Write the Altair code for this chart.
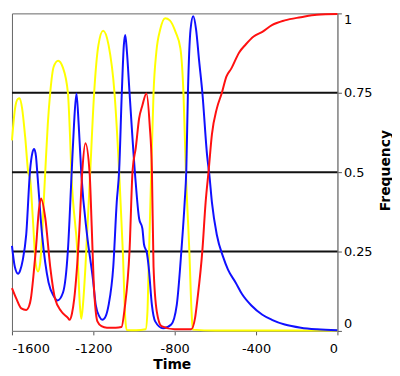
import altair as alt
import pandas as pd

# ---- data ----
yellow_t = [-1600, -1585, -1572, -1562, -1550, -1535, -1520, -1511, -1497, -1483, -1472, -1462, -1452,
            -1444, -1436, -1424, -1412, -1395, -1373, -1350, -1325, -1315, -1308, -1278, -1266, -1259,
            -1250, -1239, -1227, -1215, -1196, -1175, -1152, -1125, -1096, -1073, -1055, -1043, -1036,
            -990, -943, -934, -928, -915, -904, -890, -871, -847, -824, -795, -772, -757, -745, -728,
            -717, -711, -600, -300, 0]
yellow_v = [0.60, 0.70, 0.73, 0.733, 0.70, 0.61, 0.50, 0.48, 0.35, 0.21, 0.187, 0.21, 0.30,
            0.405, 0.506, 0.65, 0.75, 0.832, 0.851, 0.83, 0.75, 0.62, 0.50, 0.245, 0.08, 0.038,
            0.09, 0.20, 0.35, 0.506, 0.75, 0.90, 0.945, 0.90, 0.75, 0.50, 0.25, 0.04, 0.003,
            0.002, 0.005, 0.06, 0.202, 0.506, 0.75, 0.88, 0.95, 0.985, 0.978, 0.94, 0.89, 0.75, 0.50, 0.25,
            0.06, 0.004, 0.001, 0.001, 0.001]

blue_t = [-1600, -1586, -1570, -1560, -1547, -1530, -1511, -1500, -1491, -1482, -1475, -1452, -1420,
          -1395, -1376, -1349, -1325, -1306, -1295, -1283, -1272, -1259, -1231, -1202, -1188, -1170,
          -1156, -1140, -1125, -1102, -1085, -1073, -1060, -1050, -1043, -1035, -1022, -995, -975,
          -959, -951, -936, -928, -912, -896, -857, -817, -790, -767, -751, -743, -735, -722, -709,
          -695, -680, -664, -640, -630, -617, -593, -562, -538, -500, -470, -423, -369, -322, -259,
          -180, -101, 0]
blue_v = [0.268, 0.202, 0.18, 0.19, 0.223, 0.303, 0.506, 0.56, 0.573, 0.55, 0.494, 0.303, 0.152,
          0.11, 0.096, 0.121, 0.254, 0.506, 0.65, 0.748, 0.65, 0.494, 0.303, 0.163, 0.081, 0.045,
          0.035, 0.045, 0.081, 0.202, 0.405, 0.506, 0.75, 0.90, 0.932, 0.88, 0.75, 0.494, 0.354,
          0.323, 0.273, 0.243, 0.202, 0.081, 0.030, 0.008, 0.020, 0.081, 0.254, 0.405, 0.506, 0.75, 0.95, 0.991,
          0.95, 0.851, 0.75, 0.548, 0.494, 0.405, 0.303, 0.233, 0.193, 0.152, 0.117, 0.08, 0.051, 0.035, 0.020,
          0.010, 0.005, 0.002]

red_t = [-1600, -1578, -1554, -1530, -1515, -1507, -1495, -1483, -1467, -1457, -1436, -1412, -1388,
         -1357, -1325, -1317, -1305, -1294, -1270, -1254, -1239, -1218, -1208, -1198, -1188, -1180,
         -1160, -1133, -1090, -1062, -1046, -1022, -1007, -991, -975, -959, -939, -923, -912, -904,
         -888, -865, -800, -719, -700, -688, -664, -648, -633, -617, -593, -568, -546, -522, -483,
         -451, -412, -369, -322, -259, -180, -101, 0]
red_v = [0.135, 0.101, 0.071, 0.066, 0.08, 0.102, 0.17, 0.253, 0.384, 0.417, 0.354, 0.202, 0.101,
         0.061, 0.041, 0.035, 0.055, 0.101, 0.303, 0.506, 0.591, 0.494, 0.33, 0.15, 0.06, 0.030,
         0.015, 0.010, 0.010, 0.012, 0.071, 0.253, 0.506, 0.578, 0.669, 0.710, 0.748, 0.649, 0.506, 0.202,
         0.061, 0.015, 0.005, 0.005, 0.04, 0.101, 0.253, 0.405, 0.506, 0.619, 0.700, 0.750, 0.801, 0.826, 0.877,
         0.902, 0.927, 0.942, 0.963, 0.978, 0.988, 0.996, 0.998]

grid_levels = [0.25, 0.5, 0.75]
x_ticks = [-1600, -1200, -800, -400, 0]
y_ticks = [0, 0.25, 0.5, 0.75, 1]

W, H = 328, 320

x_enc = alt.X(
    "Time:Q",
    scale=alt.Scale(domain=[-1600, 0], nice=False, zero=False),
    axis=alt.Axis(values=x_ticks, labelExpr="'' + datum.value", labelFlush=True, grid=False,
                  tickSize=4, labelPadding=8, title="Time", titleX=161, titleY=38,
                  titleAlign="center", titleBaseline="alphabetic"),
)
y_enc = alt.Y(
    "Frequency:Q",
    scale=alt.Scale(domain=[0, 1], nice=False),
    axis=alt.Axis(orient="right", values=y_ticks, labelExpr="'' + datum.value", labelFlush=True,
                  grid=False, tickSize=4, labelPadding=2, title="Frequency", titleAngle=270,
                  titleX=52, titleY=158, titleAlign="center", titleBaseline="alphabetic"),
)

grid = alt.Chart(pd.DataFrame({"Frequency": grid_levels})).mark_rule(
    color="#111111", strokeWidth=2
).encode(y=y_enc)

def series(ts, vs, color):
    return alt.Chart(pd.DataFrame({"Time": ts, "Frequency": vs})).mark_line(
        color=color, strokeWidth=2, interpolate="monotone"
    ).encode(x=x_enc, y=y_enc)

chart = alt.layer(
    grid,
    series(yellow_t, yellow_v, "#ffff00"),
    series(blue_t, blue_v, "#1010ff"),
    series(red_t, red_v, "#ff1010"),
).properties(width=W, height=H, padding=0).configure_view(
    stroke="#666666", strokeWidth=1
).configure_axis(
    domainColor="#888888", tickColor="#555555", labelColor="black",
    labelFont="DejaVu Sans", labelFontSize=13,
    titleFont="DejaVu Sans", titleFontSize=14, titleFontWeight="bold", titleColor="black",
)

chart.save("out.html", embed_options={"renderer": "svg", "actions": False})
